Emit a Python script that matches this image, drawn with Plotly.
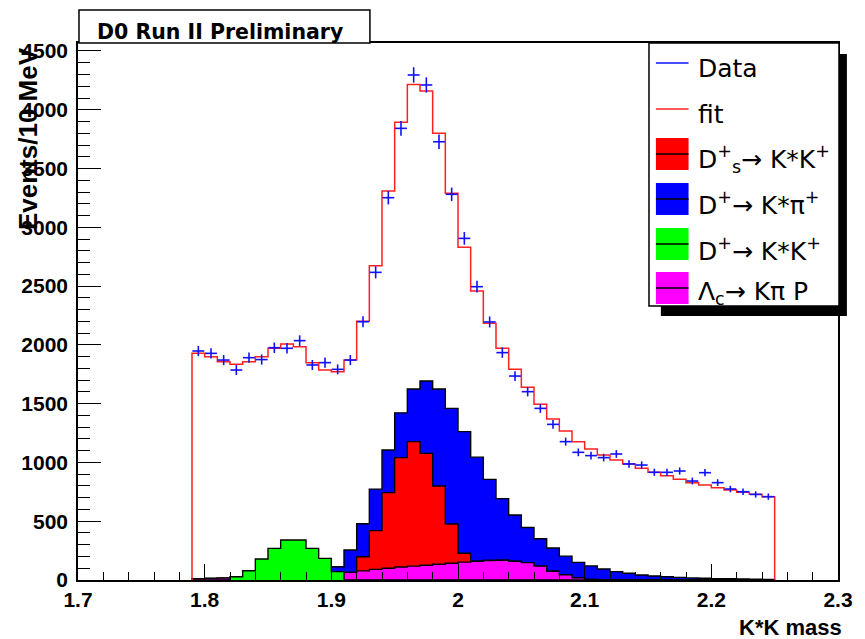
import numpy as np
import plotly.graph_objects as go

# ---------------- data (10 MeV bins from 1.79 to 2.25 GeV) ----------------
bin_lo = 1.79
bin_width = 0.01

data_counts = [1948, 1928, 1871, 1786, 1891, 1875, 1976, 1971, 2036, 1829,
               1849, 1792, 1871, 2197, 2617, 3252, 3842, 4296, 4211, 3728,
               3281, 2906, 2495, 2195, 1934, 1735, 1602, 1460, 1324, 1177,
               1086, 1058, 1041, 1072, 987, 978, 916, 916, 927, 842,
               913, 828, 774, 751, 728, 709]

fit_counts = [1928, 1900, 1857, 1835, 1857, 1900, 1971, 2007, 1985, 1849,
              1786, 1772, 1871, 2200, 2674, 3309, 3893, 4216, 4160, 3800,
              3289, 2830, 2458, 2183, 1971, 1792, 1639, 1494, 1370, 1267,
              1177, 1114, 1063, 1021, 987, 950, 916, 887, 856, 828,
              808, 785, 766, 746, 729, 709]

# Lambda_c -> K pi P  (magenta)
lambdac_kpip = [12, 14, 16, 18, 21, 24, 28, 32, 37, 42,
                48, 55, 65, 78, 90, 100, 110, 118, 126, 134,
                142, 152, 160, 166, 168, 160, 148, 118, 75, 45,
                18, 5, 0, 0, 0, 0, 0, 0, 0, 0,
                0, 0, 0, 0, 0, 0]

# D_s+ -> K* K+  (red)
ds_kstk = [0, 0, 0, 0, 0, 0, 0, 0, 0, 0,
           0, 0, 0, 120, 330, 643, 931, 1059, 951, 666,
           334, 75, 0, 0, 0, 0, 0, 0, 0, 0,
           0, 0, 0, 0, 0, 0, 0, 0, 0, 0,
           0, 0, 0, 0, 0, 0]

# D+ -> K* pi+  (blue)
dp_kstpi = [0, 0, 0, 0, 0, 0, 0, 0, 0, 5,
            25, 58, 190, 280, 353, 363, 381, 448, 616, 825,
            984, 1035, 885, 690, 524, 393, 299, 233, 197, 158,
            132, 115, 94, 71, 57, 43, 34, 28, 22, 18,
            15, 12, 10, 8, 6, 5]

# D+ -> K* K+  (green)
dp_kstk = [0, 0, 0, 28, 79, 179, 269, 340, 340, 269,
           184, 71, 0, 0, 0, 0, 0, 0, 0, 0,
           0, 0, 0, 0, 0, 0, 0, 0, 0, 0,
           0, 0, 0, 0, 0, 0, 0, 0, 0, 0,
           0, 0, 0, 0, 0, 0]

x_tickvals = [1.7, 1.8, 1.9, 2.0, 2.1, 2.2, 2.3]
x_ticktext = ["1.7", "1.8", "1.9", "2", "2.1", "2.2", "2.3"]
y_tickvals = [0, 500, 1000, 1500, 2000, 2500, 3000, 3500, 4000, 4500]
y_ticktext = ["0", "500", "1000", "1500", "2000", "2500", "3000", "3500", "4000", "4500"]

# ---------------- geometry helpers ----------------
W, H = 865, 639
L, R, T, B = 78, 846, 43, 580


def px(x):
    return (x - L) / (R - L)


def py(y):
    return (B - y) / (B - T)


n = len(data_counts)
edges = bin_lo + bin_width * np.arange(n + 1)
centers = edges[:-1] + bin_width / 2


def step_xy(vals):
    vals = list(vals)
    xs = [edges[0]] + list(edges[:-1]) + [edges[-1], edges[-1]]
    ys = [0] + vals + [vals[-1], 0]
    return xs, ys


lam = np.array(lambdac_kpip, dtype=float)
red_top = np.array(ds_kstk, dtype=float) + lam
blue_top = np.array(dp_kstpi, dtype=float) + red_top
green_top = np.array(dp_kstk, dtype=float)

fig = go.Figure()

for vals, col in [(blue_top, "#0000ff"), (red_top, "#ff0000"),
                  (lam, "#ff00ff"), (green_top, "#00ff00")]:
    xs, ys = step_xy(vals)
    fig.add_trace(go.Scatter(x=xs, y=ys, mode="lines", line_shape="hv",
                             line=dict(color="black", width=1.4),
                             fill="tozeroy", fillcolor=col,
                             hoverinfo="skip"))

xs, ys = step_xy(fit_counts)
fig.add_trace(go.Scatter(x=xs, y=ys, mode="lines", line_shape="hv",
                         line=dict(color="#ff2020", width=1.5)))

fig.add_trace(go.Scatter(
    x=centers, y=data_counts, mode="markers",
    marker=dict(size=1, color="#1010ff"),
    error_y=dict(type="data", array=np.sqrt(np.array(data_counts)),
                 color="#1010ff", thickness=1.6, width=0),
    error_x=dict(type="constant", value=0.0047, color="#1010ff",
                 thickness=1.6, width=0)))

tickfont = dict(family="Liberation Sans, Arial, sans-serif", size=21,
                color="black", weight="bold")

fig.update_layout(
    width=W, height=H,
    margin=dict(l=L, r=W - R, t=T, b=H - B, pad=0),
    paper_bgcolor="white", plot_bgcolor="white",
    showlegend=False,
    xaxis=dict(range=[1.7, 2.3], showgrid=False, zeroline=False,
               showline=True, linecolor="black", linewidth=1.5, mirror=True,
               ticks="inside", ticklen=16, tickwidth=1.2, tickcolor="black",
               tickvals=x_tickvals, ticktext=x_ticktext, tickfont=tickfont,
               minor=dict(dtick=0.02, ticks="inside", ticklen=8,
                          tickwidth=1.2, tickcolor="black", showgrid=False)),
    yaxis=dict(range=[0, 4568], showgrid=False, zeroline=False,
               showline=True, linecolor="black", linewidth=1.5, mirror=True,
               ticks="inside", ticklen=23, tickwidth=1.2, tickcolor="black",
               tickvals=y_tickvals, ticktext=y_ticktext, tickfont=tickfont,
               ticklabelstandoff=4,
               minor=dict(dtick=100, ticks="inside", ticklen=12,
                          tickwidth=1.2, tickcolor="black", showgrid=False)),
)

shapes = []
annotations = []

# title box
shapes.append(dict(type="rect", xref="paper", yref="paper",
                   x0=px(79), x1=px(373), y0=py(43), y1=py(10),
                   line=dict(color="black", width=1.5), fillcolor="white",
                   layer="above"))
annotations.append(dict(text="<b>D0 Run II Preliminary</b>", xref="paper", yref="paper",
                        x=px(95), y=py(32), xanchor="left", yanchor="middle",
                        showarrow=False,
                        font=dict(family="DejaVu Sans", size=20.5, color="black")))

# legend shadow and box
shapes.append(dict(type="rect", xref="paper", yref="paper",
                   x0=px(667), x1=px(855), y0=py(316), y1=py(54),
                   line=dict(width=0), fillcolor="black", layer="above"))
shapes.append(dict(type="rect", xref="paper", yref="paper",
                   x0=px(655), x1=px(847), y0=py(306), y1=py(43),
                   line=dict(color="black", width=1.5), fillcolor="white",
                   layer="above"))

legend_entries = [
    ("line", "#1010ff", "Data", 63),
    ("line", "#ff2020", "fit", 109),
    ("box", "#ff0000", "D<sup>+</sup><sub>s</sub>\u2192 K*K<sup>+</sup>", 154),
    ("box", "#0000ff", "D<sup>+</sup>\u2192 K*\u03c0<sup>+</sup>", 199),
    ("box", "#00ff00", "D<sup>+</sup>\u2192 K*K<sup>+</sup>", 244),
    ("box", "#ff00ff", "\u039b<sub>c</sub>\u2192 K\u03c0 P", 288),
]
for kind, col, label, yc in legend_entries:
    if kind == "line":
        shapes.append(dict(type="line", xref="paper", yref="paper",
                           x0=px(662), x1=px(695), y0=py(yc), y1=py(yc),
                           line=dict(color=col, width=1.5), layer="above"))
    else:
        shapes.append(dict(type="rect", xref="paper", yref="paper",
                           x0=px(662), x1=px(695), y0=py(yc + 16), y1=py(yc - 16),
                           line=dict(width=0), fillcolor=col, layer="above"))
        shapes.append(dict(type="line", xref="paper", yref="paper",
                           x0=px(662), x1=px(695), y0=py(yc), y1=py(yc),
                           line=dict(color="black", width=1.5), layer="above"))
    annotations.append(dict(text=label, xref="paper", yref="paper",
                            x=px(702), y=py(yc + 5), xanchor="left", yanchor="middle",
                            showarrow=False,
                            font=dict(family="DejaVu Sans", size=25, color="black")))

# axis titles
annotations.append(dict(text="<b>K*K mass</b>", xref="paper", yref="paper",
                        x=px(852), y=py(627), xanchor="right", yanchor="middle",
                        showarrow=False,
                        font=dict(family="Liberation Sans, Arial", size=22, color="black")))
annotations.append(dict(text="<b>Events/10 MeV</b>", xref="paper", yref="paper",
                        x=px(27), y=py(45), xanchor="center", yanchor="top",
                        textangle=-90, showarrow=False,
                        font=dict(family="Liberation Sans, Arial", size=26, color="black")))

fig.update_layout(shapes=shapes, annotations=annotations)

fig.write_html("out.html")
